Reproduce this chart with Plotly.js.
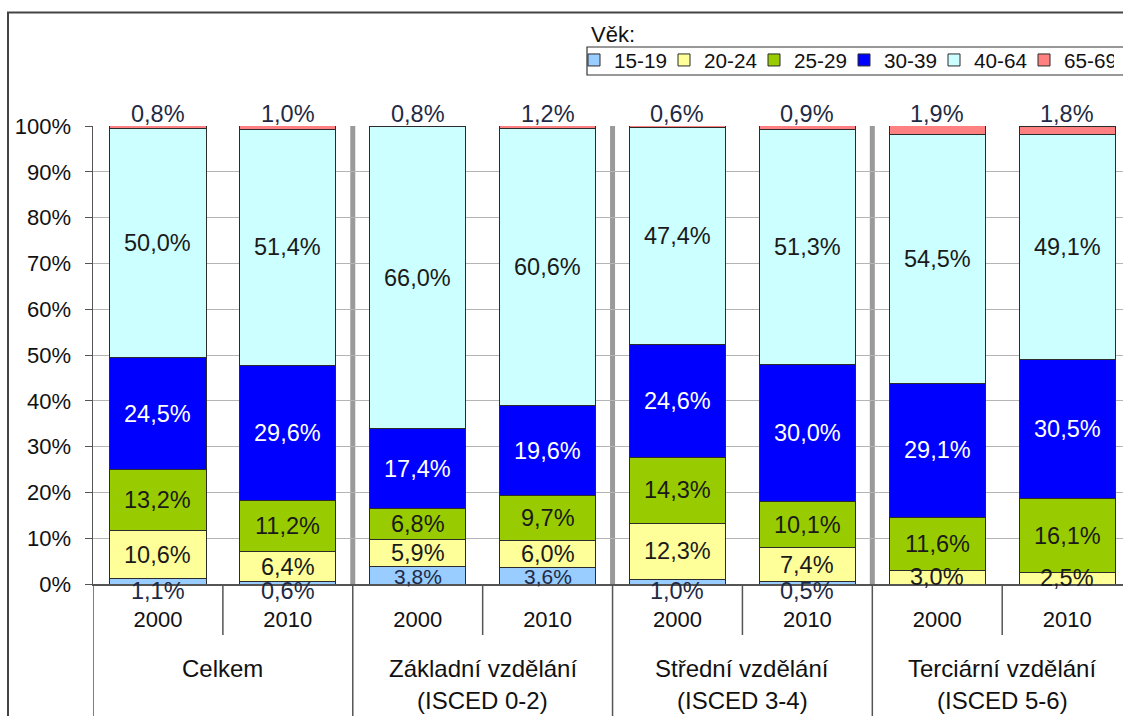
<!DOCTYPE html>
<html>
<head>
<meta charset="utf-8">
<script src="https://cdn.plot.ly/plotly-3.0.1.min.js"></script>
<style>html,body{margin:0;padding:0;background:#fff;}#chart{width:1123px;height:716px;}</style>
</head>
<body>
<div id="chart"></div>
<script>
// ---- data ----
const groups = ["Celkem", "Základní vzdělání", "Střední vzdělání", "Terciární vzdělání"];
const groupSub = ["", "(ISCED 0-2)", "(ISCED 3-4)", "(ISCED 5-6)"];
const years = ["2000", "2010"];
const ageGroups = ["15-19", "20-24", "25-29", "30-39", "40-64", "65-69"];
// values per bar: Celkem 2000, Celkem 2010, Základní 2000, Základní 2010, Střední 2000, Střední 2010, Terciární 2000, Terciární 2010
const v15_19 = [1.1, 0.6, 3.8, 3.6, 1.0, 0.5, 0.0, 0.0];
const v20_24 = [10.6, 6.4, 5.9, 6.0, 12.3, 7.4, 3.0, 2.5];
const v25_29 = [13.2, 11.2, 6.8, 9.7, 14.3, 10.1, 11.6, 16.1];
const v30_39 = [24.5, 29.6, 17.4, 19.6, 24.6, 30.0, 29.1, 30.5];
const v40_64 = [50.0, 51.4, 66.0, 60.6, 47.4, 51.3, 54.5, 49.1];
const v65_69 = [0.8, 1.0, 0.8, 1.2, 0.6, 0.9, 1.9, 1.8];
const series = [v15_19, v20_24, v25_29, v30_39, v40_64, v65_69];
const yTickVals = [0, 10, 20, 30, 40, 50, 60, 70, 80, 90, 100];
const yTickText = yTickVals.map(v => v + "%");
const colors = ["#99ccff", "#ffff99", "#99cc00", "#0000ff", "#ccffff", "#ff8080"];
const labelColors = ["#1e2a44", "#1a1a1a", "#1a1a1a", "#ffffff", "#1a1a1a", "#1e2a44"];

// ---- categories ----
const cats = [];
groups.forEach((g, gi) => years.forEach(y => cats.push(g + " " + y)));
const yearTicks = cats.map((c, i) => years[i % years.length]);

const FONT = "Liberation Sans, Arial, sans-serif";

const traces = series.map((vals, si) => ({
  type: "bar",
  name: ageGroups[si],
  x: cats,
  y: vals,
  width: 0.74,
  marker: {color: colors[si], line: {color: "#2b2b2b", width: 1}},
  hoverinfo: "skip"
}));

// ---- labels ----
const fmt = v => v.toFixed(1).replace(".", ",") + "%";
const annotations = [];
const cum = cats.map(() => 0);
series.forEach((vals, si) => {
  vals.forEach((v, j) => {
    const bottom = cum[j];
    const top = Math.min(100, bottom + v);
    cum[j] += v;
    if (v <= 0) return;
    let y = (bottom + top) / 2, yshift = 0, size = 23.5;
    if (si === series.length - 1) { y = 100; yshift = 12; }
    else if (si === 0 && v < 2) { y = 0; yshift = -7; }
    else if (si === 0) { yshift = -1; size = 21; }
    annotations.push({
      x: cats[j], y: y, yshift: yshift, xref: "x", yref: "y", yanchor: "middle",
      text: fmt(v), showarrow: false,
      font: {family: FONT, size: size, color: labelColors[si]}
    });
  });
});

// group labels
const pY = Y => (584 - Y) / 458;
const pX = X => (X - 93) / 1030;
groups.forEach((g, gi) => {
  const xc = gi * 2 + 0.5;
  annotations.push({x: xc, y: pY(668), xref: "x", yref: "paper", yanchor: "middle", text: g, showarrow: false,
    font: {family: FONT, size: 24, color: "#111"}});
  if (groupSub[gi]) annotations.push({x: xc, y: pY(700), xref: "x", yref: "paper", yanchor: "middle", text: groupSub[gi], showarrow: false,
    font: {family: FONT, size: 24, color: "#111"}});
});
// legend title
annotations.push({x: pX(589), y: pY(35), xref: "paper", yref: "paper", xanchor: "left", yanchor: "middle", text: "Věk:",
  showarrow: false, font: {family: FONT, size: 22, color: "#111"}});

// ---- shapes ----
const shapes = [];
// thick gray group separators in plot
for (let gi = 1; gi < groups.length; gi++) {
  const x = gi * 2 - 0.5;
  shapes.push({type: "line", xref: "x", yref: "y", x0: x, x1: x, y0: 0, y1: 100.3, line: {color: "#9a9a9a", width: 5}, layer: "below"});
}
// dividers below axis
for (let j = 0; j < cats.length; j++) {
  const x = j - 0.5;
  const isGroup = j % 2 === 0;
  shapes.push({type: "line", xref: "x", yref: "paper", x0: x, x1: x, y0: 0, y1: isGroup ? -0.3 : pY(635), line: {color: "#555", width: 1.5}});
}
// outer frame
shapes.push({type: "rect", xref: "paper", yref: "paper", x0: pX(8), x1: 1.2, y0: -0.4, y1: pY(12.5), line: {color: "#444", width: 2}});
// legend box
shapes.push({type: "rect", xref: "paper", yref: "paper", x0: pX(587), x1: 1.05, y0: pY(75), y1: pY(47), line: {color: "#333", width: 1.2}, fillcolor: "#fff", layer: "below"});

const layout = {
  width: 1123, height: 716,
  margin: {l: 93, r: 0, t: 126, b: 132, autoexpand: false},
  paper_bgcolor: "#fff", plot_bgcolor: "#fff",
  barmode: "stack",
  showlegend: true,
  legend: {
    orientation: "h", x: pX(574), y: pY(40), xanchor: "left", yanchor: "top",
    borderwidth: 0, bgcolor: "rgba(0,0,0,0)",
    font: {family: FONT, size: 20.7, color: "#111"},
    traceorder: "normal", itemwidth: 30, entrywidth: 45, itemclick: false
  },
  xaxis: {
    type: "category", categoryorder: "array", categoryarray: cats,
    range: [-0.5, 7.43], tickvals: cats, ticktext: yearTicks,
    showgrid: false, zeroline: false, showline: true, linecolor: "#555", linewidth: 1.5,
    ticks: "", ticklabelstandoff: 15,
    tickfont: {family: FONT, size: 22, color: "#111"}, fixedrange: true
  },
  yaxis: {
    range: [0, 100], tickvals: yTickVals, ticktext: yTickText,
    showgrid: true, gridcolor: "#b4b4b4", gridwidth: 1, zeroline: false,
    showline: true, linecolor: "#555", linewidth: 1.5,
    ticks: "outside", ticklen: 7, tickcolor: "#555", ticklabelstandoff: 9,
    tickfont: {family: FONT, size: 22, color: "#111"}, fixedrange: true
  },
  annotations: annotations,
  shapes: shapes
};

Plotly.newPlot("chart", traces, layout, {displayModeBar: false, staticPlot: true});
</script>
</body>
</html>
